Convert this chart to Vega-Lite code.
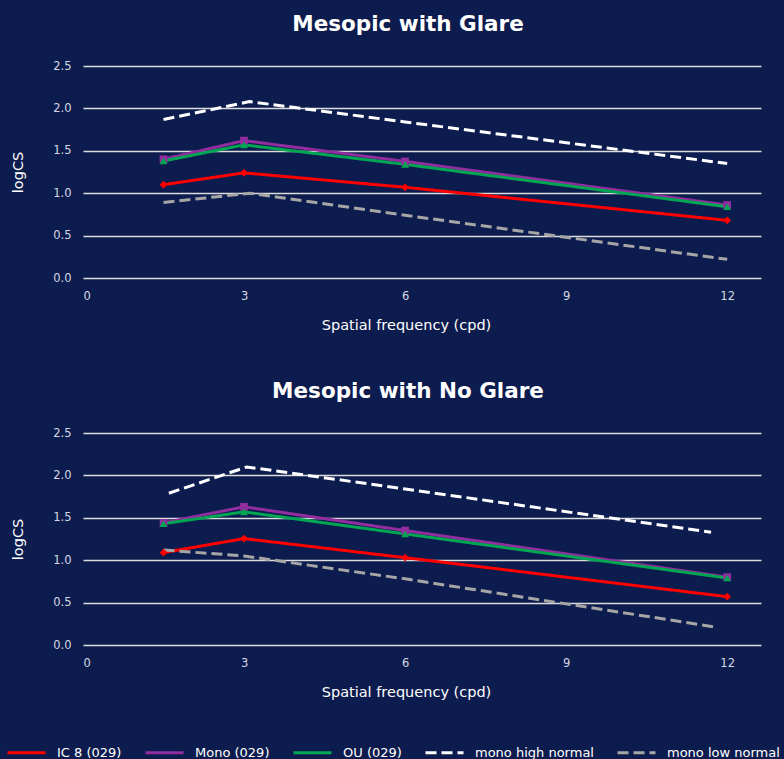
{
  "$schema": "https://vega.github.io/schema/vega-lite/v6.json",
  "background": "#0d1c4e",
  "padding": {"left": 6, "top": 13, "right": 10, "bottom": 0},
  "data": {"values": [
    {"panel": "glare", "series": "IC 8 (029)", "x": 1.5, "y": 1.10},
    {"panel": "glare", "series": "IC 8 (029)", "x": 3, "y": 1.24},
    {"panel": "glare", "series": "IC 8 (029)", "x": 6, "y": 1.07},
    {"panel": "glare", "series": "IC 8 (029)", "x": 12, "y": 0.68},
    {"panel": "glare", "series": "Mono (029)", "x": 1.5, "y": 1.40},
    {"panel": "glare", "series": "Mono (029)", "x": 3, "y": 1.62},
    {"panel": "glare", "series": "Mono (029)", "x": 6, "y": 1.375},
    {"panel": "glare", "series": "Mono (029)", "x": 12, "y": 0.86},
    {"panel": "glare", "series": "OU (029)", "x": 1.5, "y": 1.38},
    {"panel": "glare", "series": "OU (029)", "x": 3, "y": 1.57},
    {"panel": "glare", "series": "OU (029)", "x": 6, "y": 1.34},
    {"panel": "glare", "series": "OU (029)", "x": 12, "y": 0.84},
    {"panel": "glare", "series": "mono high normal", "x": 1.5, "y": 1.87},
    {"panel": "glare", "series": "mono high normal", "x": 3.1, "y": 2.08},
    {"panel": "glare", "series": "mono high normal", "x": 6, "y": 1.84},
    {"panel": "glare", "series": "mono high normal", "x": 12, "y": 1.35},
    {"panel": "glare", "series": "mono low normal", "x": 1.5, "y": 0.89},
    {"panel": "glare", "series": "mono low normal", "x": 3.1, "y": 1.00},
    {"panel": "glare", "series": "mono low normal", "x": 6, "y": 0.74},
    {"panel": "glare", "series": "mono low normal", "x": 12, "y": 0.22},
    {"panel": "noglare", "series": "IC 8 (029)", "x": 1.5, "y": 1.09},
    {"panel": "noglare", "series": "IC 8 (029)", "x": 3, "y": 1.255},
    {"panel": "noglare", "series": "IC 8 (029)", "x": 6, "y": 1.03},
    {"panel": "noglare", "series": "IC 8 (029)", "x": 12, "y": 0.57},
    {"panel": "noglare", "series": "Mono (029)", "x": 1.5, "y": 1.44},
    {"panel": "noglare", "series": "Mono (029)", "x": 3, "y": 1.63},
    {"panel": "noglare", "series": "Mono (029)", "x": 6, "y": 1.35},
    {"panel": "noglare", "series": "Mono (029)", "x": 12, "y": 0.80},
    {"panel": "noglare", "series": "OU (029)", "x": 1.5, "y": 1.43},
    {"panel": "noglare", "series": "OU (029)", "x": 3, "y": 1.57},
    {"panel": "noglare", "series": "OU (029)", "x": 6, "y": 1.31},
    {"panel": "noglare", "series": "OU (029)", "x": 12, "y": 0.79},
    {"panel": "noglare", "series": "mono high normal", "x": 1.6, "y": 1.79},
    {"panel": "noglare", "series": "mono high normal", "x": 3.05, "y": 2.10},
    {"panel": "noglare", "series": "mono high normal", "x": 6, "y": 1.84},
    {"panel": "noglare", "series": "mono high normal", "x": 11.7, "y": 1.33},
    {"panel": "noglare", "series": "mono low normal", "x": 1.5, "y": 1.12},
    {"panel": "noglare", "series": "mono low normal", "x": 3, "y": 1.05},
    {"panel": "noglare", "series": "mono low normal", "x": 6, "y": 0.78},
    {"panel": "noglare", "series": "mono low normal", "x": 11.8, "y": 0.21}
  ]},
  "config": {
    "view": {"stroke": null},
    "font": "DejaVu Sans",
    "concat": {"spacing": 48},
    "axis": {
      "labelColor": "#d5d8e2", "labelFontSize": 11.5, "labelFont": "DejaVu Sans",
      "titleColor": "#ffffff", "titleFontSize": 14.5, "titleFontWeight": "normal", "titleFont": "DejaVu Sans",
      "domain": false, "ticks": false,
      "gridColor": "#dcdcdc", "gridWidth": 1.5, "gridOpacity": 1
    },
    "title": {"fontSize": 21.5, "fontWeight": "bold", "color": "#ffffff", "font": "DejaVu Sans", "anchor": "middle", "frame": "group", "dx": -14, "offset": 25},
    "legend": {
      "orient": "none", "legendX": -77, "legendY": 666, "direction": "horizontal", "columns": 5,
      "symbolType": "stroke", "symbolSize": 1444, "symbolStrokeWidth": 3,
      "labelFontSize": 13, "labelColor": "#ffffff", "labelFont": "DejaVu Sans", "labelOffset": 10,
      "columnPadding": 17, "title": null
    }
  },
  "resolve": {"scale": {"color": "shared", "strokeDash": "shared"}},
  "vconcat": [
    {
      "title": "Mesopic with Glare",
      "width": 678, "height": 212,
      "transform": [{"filter": "datum.panel === 'glare'"}],
      "encoding": {
        "x": {"field": "x", "type": "quantitative", "scale": {"domain": [0, 12.63], "nice": false},
              "axis": {"values": [0, 3, 6, 9, 12], "title": "Spatial frequency (cpd)", "grid": false, "labelPadding": 12, "titlePadding": 17, "titleX": 323}},
        "y": {"field": "y", "type": "quantitative", "scale": {"domain": [0, 2.5], "nice": false},
              "axis": {"values": [0, 0.5, 1, 1.5, 2, 2.5], "format": ".1f", "title": "logCS", "grid": true, "labelPadding": 12, "titlePadding": 27}},
        "color": {"field": "series", "type": "nominal",
                  "scale": {"domain": ["IC 8 (029)", "Mono (029)", "OU (029)", "mono high normal", "mono low normal"],
                            "range": ["#ff0000", "#912d9e", "#00a651", "#ffffff", "#a6a6a6"]},
                  "legend": {"title": null}}
      },
      "layer": [
        {"mark": {"type": "line", "strokeWidth": 3},
         "encoding": {"strokeDash": {"field": "series", "type": "nominal",
           "scale": {"domain": ["IC 8 (029)", "Mono (029)", "OU (029)", "mono high normal", "mono low normal"],
                     "range": [[1, 0], [1, 0], [1, 0], [11, 5], [11, 5]]}, "legend": {"title": null}}}},
        {"mark": {"type": "point", "filled": true, "opacity": 1, "size": 60},
         "transform": [{"filter": "indexof(['IC 8 (029)','Mono (029)','OU (029)'], datum.series) >= 0"}],
         "encoding": {"shape": {"field": "series", "type": "nominal",
           "scale": {"domain": ["IC 8 (029)", "Mono (029)", "OU (029)"], "range": ["diamond", "square", "triangle-up"]}, "legend": null}}}
      ]
    },
    {
      "title": "Mesopic with No Glare",
      "width": 678, "height": 212,
      "transform": [{"filter": "datum.panel === 'noglare'"}],
      "encoding": {
        "x": {"field": "x", "type": "quantitative", "scale": {"domain": [0, 12.63], "nice": false},
              "axis": {"values": [0, 3, 6, 9, 12], "title": "Spatial frequency (cpd)", "grid": false, "labelPadding": 12, "titlePadding": 17, "titleX": 323}},
        "y": {"field": "y", "type": "quantitative", "scale": {"domain": [0, 2.5], "nice": false},
              "axis": {"values": [0, 0.5, 1, 1.5, 2, 2.5], "format": ".1f", "title": "logCS", "grid": true, "labelPadding": 12, "titlePadding": 27}},
        "color": {"field": "series", "type": "nominal",
                  "scale": {"domain": ["IC 8 (029)", "Mono (029)", "OU (029)", "mono high normal", "mono low normal"],
                            "range": ["#ff0000", "#912d9e", "#00a651", "#ffffff", "#a6a6a6"]},
                  "legend": {"title": null}}
      },
      "layer": [
        {"mark": {"type": "line", "strokeWidth": 3},
         "encoding": {"strokeDash": {"field": "series", "type": "nominal",
           "scale": {"domain": ["IC 8 (029)", "Mono (029)", "OU (029)", "mono high normal", "mono low normal"],
                     "range": [[1, 0], [1, 0], [1, 0], [11, 5], [11, 5]]}, "legend": {"title": null}}}},
        {"mark": {"type": "point", "filled": true, "opacity": 1, "size": 60},
         "transform": [{"filter": "indexof(['IC 8 (029)','Mono (029)','OU (029)'], datum.series) >= 0"}],
         "encoding": {"shape": {"field": "series", "type": "nominal",
           "scale": {"domain": ["IC 8 (029)", "Mono (029)", "OU (029)"], "range": ["diamond", "square", "triangle-up"]}, "legend": null}}}
      ]
    }
  ]
}
